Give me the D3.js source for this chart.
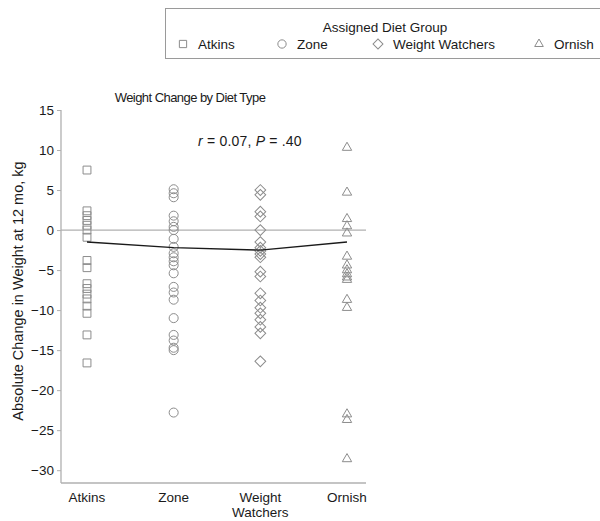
<!DOCTYPE html>
<html>
<head>
<meta charset="utf-8">
<script src="https://cdn.jsdelivr.net/npm/d3@7"></script>
<style>
body { margin: 0; background: #fff; }
svg { font-family: "Liberation Sans", Arial, sans-serif; }
</style>
</head>
<body>
<div id="chart"></div>
<script>
var w = 600;
var h = 521;

// groups and the individual weight changes (kg)
var groups = ["Atkins", "Zone", "Weight Watchers", "Ornish"];
var groupLabels = [["Atkins"], ["Zone"], ["Weight", "Watchers"], ["Ornish"]];
var atkins = [7.5, 2.4, 1.8, 1.2, 0.6, 0, -0.9, -3.8, -4.7, -6.7, -7.3, -8, -8.6, -9.5, -10.4, -13.1, -16.6];
var zone = [5.1, 4.6, 4.1, 1.8, 1.1, 0.4, 0, -1.1, -2.1, -2.9, -3.4, -3.9, -4.4, -5.4, -7.1, -7.8, -8.7, -11, -13.1, -13.8, -14.7, -15, -22.8];
var weightWatchers = [5.0, 4.4, 2.3, 1.7, 0, -1.5, -2.2, -2.6, -3.0, -3.4, -5.2, -5.8, -7.9, -8.8, -9.7, -10.4, -11.2, -12.1, -12.9, -16.4];
var ornish = [10.3, 4.7, 1.4, 0.5, -0.4, -3.3, -4.4, -5.0, -5.5, -5.9, -6.2, -8.7, -9.7, -23, -23.7, -28.6];
var groupMeans = [-1.5, -2.2, -2.5, -1.5];
var yTicks = [15, 10, 5, 0, -5, -10, -15, -20, -25, -30];

var values = [atkins, zone, weightWatchers, ornish];
var symbols = [d3.symbolSquare, d3.symbolCircle, "diamond", d3.symbolTriangle];
var symSize = [62, 64, 58, 38];

var grey = "#8c8c8c";
var axisGrey = "#b0b0b0";
var ink = "#1a1a1a";

var svg = d3.select("#chart")
	.append("svg")
	.attr("width", w)
	.attr("height", h);

var padL = 61, padB = 483, padT = 110, padR = 366;

var y = d3.scaleLinear()
	.domain([-31.6, 15])
	.range([padB, padT]);

var x = d3.scalePoint()
	.domain(groups)
	.range([padL, 373])
	.padding(0.3);

function shape(i, legend) {
	var s = symbols[i];
	var size = legend ? symSize[i] * 0.85 : symSize[i];
	if (s === "diamond") return d3.symbol().type(d3.symbolSquare).size(size)();
	return d3.symbol().type(s).size(size)();
}
function rot(i) { return symbols[i] === "diamond" ? " rotate(45)" : ""; }

// title
svg.append("text")
	.attr("x", 190).attr("y", 102)
	.attr("text-anchor", "middle")
	.style("font-size", "13px")
	.style("letter-spacing", "-0.55px")
	.style("fill", ink)
	.text("Weight Change by Diet Type");

// axes
var yAxis = d3.axisLeft(y).tickValues(yTicks).tickSize(4).tickPadding(3)
	.tickFormat(function(d){ return d < 0 ? "\u2212" + Math.abs(d) : d; });
var gy = svg.append("g").attr("transform", "translate(" + padL + ",0)").call(yAxis);
gy.select(".domain").remove();
gy.selectAll(".tick line").attr("stroke", axisGrey);
gy.selectAll(".tick text").style("font-size", "13.5px").style("fill", ink).style("font-family", "\"Liberation Sans\", Arial, sans-serif");

svg.append("line")
	.attr("x1", padL).attr("x2", padL)
	.attr("y1", y(15)).attr("y2", padB)
	.attr("stroke", axisGrey).attr("stroke-width", 1.3);
svg.append("line")
	.attr("x1", padL).attr("x2", padR)
	.attr("y1", padB).attr("y2", padB)
	.attr("stroke", axisGrey).attr("stroke-width", 1.3);

// zero line
svg.append("line")
	.attr("x1", padL).attr("x2", padR)
	.attr("y1", y(0)).attr("y2", y(0))
	.attr("stroke", axisGrey).attr("stroke-width", 1.2);

// x labels
groups.forEach(function(g, i){
	var t = svg.append("text")
		.attr("x", x(g)).attr("y", 502)
		.attr("text-anchor", "middle")
		.style("font-size", "13.5px")
		.style("fill", ink);
	groupLabels[i].forEach(function(line, j){
		t.append("tspan").attr("x", x(g)).attr("dy", j === 0 ? 0 : 15).text(line);
	});
});

// y label
svg.append("text")
	.attr("transform", "translate(23,291) rotate(-90)")
	.attr("text-anchor", "middle")
	.style("font-size", "14.5px")
	.style("fill", ink)
	.text("Absolute Change in Weight at 12 mo, kg");

// points
groups.forEach(function(g, i){
	svg.append("g").selectAll("path")
		.data(values[i])
		.enter().append("path")
		.attr("d", shape(i))
		.attr("transform", function(d){ return "translate(" + x(g) + "," + y(d) + ")" + rot(i); })
		.attr("fill", "none")
		.attr("stroke", grey)
		.attr("stroke-width", 1);
});

// mean line
var line = d3.line()
	.x(function(d, i){ return x(groups[i]); })
	.y(function(d){ return y(d); });
svg.append("path")
	.datum(groupMeans)
	.attr("d", line)
	.attr("fill", "none")
	.attr("stroke", ink)
	.attr("stroke-width", 1.4);

// correlation note
var note = svg.append("text")
	.attr("x", 198).attr("y", 146)
	.style("font-size", "14px")
	.style("letter-spacing", "0.2px")
	.style("fill", ink);
note.append("tspan").style("font-style", "italic").text("r");
note.append("tspan").text(" = 0.07, ");
note.append("tspan").style("font-style", "italic").text("P");
note.append("tspan").text(" = .40");

// legend
var lg = svg.append("g");
lg.append("rect")
	.attr("x", 165.5).attr("y", 8.5)
	.attr("width", 440).attr("height", 50)
	.attr("fill", "none")
	.attr("stroke", "#9a9a9a");
lg.append("text")
	.attr("x", 385).attr("y", 32)
	.attr("text-anchor", "middle")
	.style("font-size", "13.5px")
	.style("fill", ink)
	.text("Assigned Diet Group");
var legX = [183, 282, 378, 539];
groups.forEach(function(g, i){
	lg.append("path")
		.attr("d", shape(i, true))
		.attr("transform", "translate(" + legX[i] + ",44)" + rot(i))
		.attr("fill", "none")
		.attr("stroke", grey);
	lg.append("text")
		.attr("x", legX[i] + 15).attr("y", 49)
		.style("font-size", "13.5px")
		.style("fill", ink)
		.text(g);
});
</script>
</body>
</html>
